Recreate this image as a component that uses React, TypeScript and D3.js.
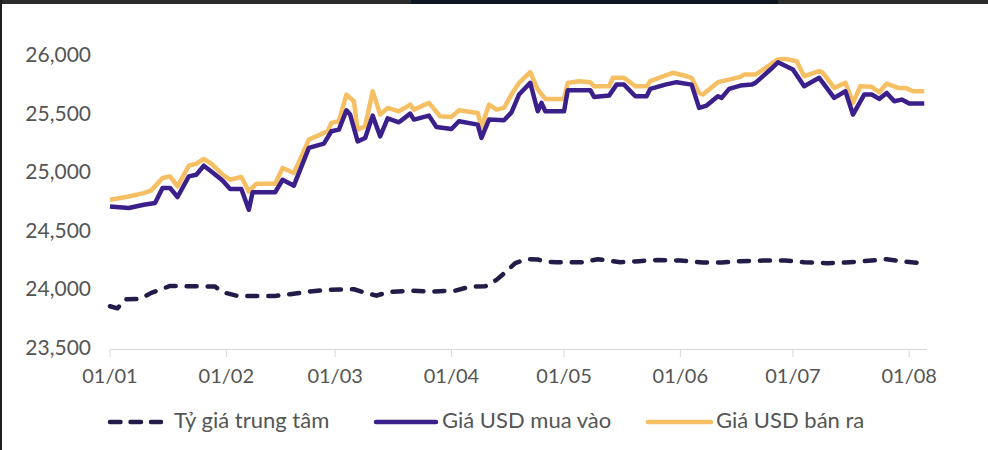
import React from "react";
import * as d3 from "d3";

const centralDates = ["01-01","01-03","01-05","01-09","01-12","01-17","01-29","01-31","02-04","02-14","02-18","02-23","02-28","03-06","03-08","03-12","03-15","03-21","03-26","04-02","04-06","04-10","04-13","04-15","04-18","04-21","04-24","04-26","04-29","05-06","05-10","05-16","05-21","05-26","06-01","06-07","06-12","06-17","06-23","06-29","07-04","07-10","07-15","07-20","07-26","07-31","08-04"];
const centralValues = [23870,23852,23930,23932,23984,24043,24038,23990,23958,23958,23973,23995,24010,24015,23995,23960,23990,24003,23995,24003,24038,24040,24095,24150,24238,24272,24270,24250,24246,24246,24272,24246,24255,24265,24260,24243,24243,24255,24260,24260,24246,24238,24243,24255,24272,24250,24238];

const buyDates = ["01-01","01-06","01-10","01-13","01-15","01-17","01-19","01-22","01-24","01-26","01-28","01-31","02-02","02-05","02-07","02-08","02-14","02-16","02-19","02-23","02-27","02-29","03-02","03-04","03-05","03-07","03-09","03-11","03-13","03-15","03-18","03-21","03-22","03-26","03-28","04-01","04-03","04-08","04-09","04-11","04-15","04-17","04-19","04-22","04-24","04-25","04-26","05-01","05-02","05-08","05-09","05-13","05-15","05-17","05-20","05-23","05-24","05-28","05-31","06-04","06-06","06-08","06-11","06-12","06-14","06-17","06-20","06-21","06-25","06-27","07-01","07-04","07-08","07-12","07-15","07-17","07-20","07-22","07-24","07-26","07-28","07-30","08-01","08-05"];
const buyValues = [24723,24709,24737,24752,24880,24880,24803,24980,24994,25071,25022,24945,24872,24872,24694,24843,24843,24951,24900,25223,25260,25365,25379,25544,25508,25279,25308,25499,25322,25475,25442,25516,25465,25499,25402,25385,25451,25422,25308,25465,25459,25527,25679,25779,25536,25608,25536,25536,25716,25716,25659,25670,25764,25764,25665,25665,25728,25764,25785,25764,25565,25585,25665,25651,25728,25756,25764,25779,25893,25955,25893,25750,25822,25651,25707,25508,25679,25679,25642,25693,25622,25636,25602,25602];

const sellDates = ["01-01","01-06","01-10","01-12","01-15","01-17","01-19","01-22","01-24","01-26","01-28","01-31","02-02","02-05","02-07","02-09","02-14","02-16","02-19","02-23","02-26","02-28","02-29","03-02","03-04","03-06","03-07","03-09","03-11","03-13","03-15","03-18","03-21","03-22","03-26","03-29","04-01","04-03","04-08","04-09","04-11","04-13","04-15","04-17","04-19","04-22","04-24","04-26","05-01","05-02","05-05","05-08","05-09","05-13","05-14","05-17","05-20","05-23","05-24","05-27","05-30","06-02","06-04","06-06","06-07","06-11","06-14","06-17","06-18","06-21","06-23","06-27","06-29","07-02","07-04","07-08","07-09","07-12","07-15","07-17","07-19","07-22","07-24","07-26","07-29","07-31","08-02","08-05"];
const sellValues = [24780,24808,24837,24860,24966,24980,24894,25071,25088,25128,25088,24994,24951,24974,24851,24917,24917,25051,25008,25294,25337,25365,25437,25451,25679,25622,25379,25408,25707,25508,25565,25536,25593,25550,25608,25493,25488,25544,25522,25402,25593,25550,25565,25679,25779,25870,25722,25642,25642,25779,25793,25785,25750,25750,25822,25822,25750,25750,25793,25830,25865,25842,25822,25693,25679,25785,25807,25830,25850,25850,25893,25979,25984,25964,25836,25879,25865,25736,25779,25608,25750,25745,25699,25773,25736,25736,25707,25707];

const yTicks = [23500, 24000, 24500, 25000, 25500, 26000];
const xTickDates = ["01-01","02-01","03-01","04-01","05-01","06-01","07-01","08-01"];
const legendLabels = ["Tỷ giá trung tâm", "Giá USD mua vào", "Giá USD bán ra"];

const parse = (s: string) => new Date(2024, +s.slice(0, 2) - 1, +s.slice(3, 5));

const FONT = "Lato, 'Open Sans', sans-serif";
const TEXT = "#555555";
const C_CENTRAL = "#211d48";
const C_BUY = "#3b1f8a";
const C_SELL = "#f6bf63";

export default function App() {
  const x = d3.scaleTime().domain([parse("01-01"), parse("08-06")]).range([110, 928]);
  const y = d3.scaleLinear().domain([23500, 26000]).range([349.5, 57]);
  const line = d3.line<[Date, number]>().x(d => x(d[0])).y(d => y(d[1]));
  const mk = (ds: string[], vs: number[]) => ds.map((d, i) => [parse(d), vs[i]] as [Date, number]);
  const fmt = d3.format(",");
  const legendX = [110, 376, 648];
  const legendTextX = [174, 442, 716];
  const legendW = [51, 60, 63];
  const legendColors = [C_CENTRAL, C_BUY, C_SELL];
  return (
    <svg width={988} height={450} style={{ position: "absolute", left: 0, top: 0, background: "#fff" }} fontFamily={FONT}>
      <rect x={0} y={0} width={988} height={4} fill="#2b2b2b" />
      <rect x={411} y={0} width={367} height={4} fill="#0c1722" />
      <rect x={0} y={0} width={2} height={450} fill="#1e1e1e" />
      <line x1={110} x2={927} y1={349.5} y2={349.5} stroke="#d9d9d9" strokeWidth={1} />
      {xTickDates.map(t => (
        <g key={t}>
          <line x1={x(parse(t))} x2={x(parse(t))} y1={349.5} y2={357} stroke="#d9d9d9" strokeWidth={1} />
          <text x={x(parse(t))} y={378} textAnchor="middle" dominantBaseline="middle" fontSize={20} fill={TEXT}>
            {t.slice(3) + "/" + t.slice(0, 2)}
          </text>
        </g>
      ))}
      {yTicks.map(t => (
        <text key={t} x={91} y={y(t)} textAnchor="end" dominantBaseline="middle" fontSize={21} fill={TEXT}>
          {fmt(t)}
        </text>
      ))}
      <path d={line(mk(centralDates, centralValues)) || ""} fill="none" stroke={C_CENTRAL} strokeWidth={4.5} strokeDasharray="10,11" strokeLinecap="round" strokeLinejoin="round" />
      <path d={line(mk(sellDates, sellValues)) || ""} fill="none" stroke={C_SELL} strokeWidth={4.5} strokeLinejoin="round" />
      <path d={line(mk(buyDates, buyValues)) || ""} fill="none" stroke={C_BUY} strokeWidth={4.5} strokeLinejoin="round" />
      {legendLabels.map((l, i) => (
        <g key={l}>
          <line x1={legendX[i]} x2={legendX[i] + legendW[i]} y1={422} y2={422} stroke={legendColors[i]} strokeWidth={4.5}
            strokeDasharray={i === 0 ? "10.5,10" : undefined} strokeLinecap="round" />
          <text x={legendTextX[i]} y={422} dominantBaseline="middle" fontSize={22} fill={TEXT}>{l}</text>
        </g>
      ))}
    </svg>
  );
}
